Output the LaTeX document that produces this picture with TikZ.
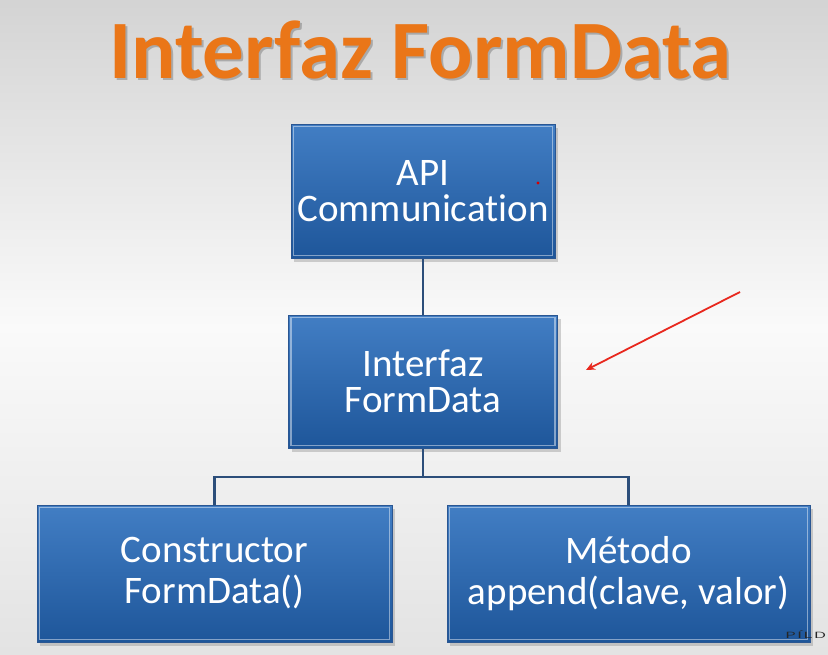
\documentclass[tikz,border=0pt]{standalone}
\usepackage{fontspec}
\setmainfont{Carlito}[Ligatures={NoCommon,NoContextual}]
\usetikzlibrary{shadows,arrows.meta}

\definecolor{titleorange}{RGB}{234,118,24}
\definecolor{boxtop}{RGB}{66,126,196}
\definecolor{boxbot}{RGB}{30,86,154}
\definecolor{boxedge}{RGB}{42,86,146}
\definecolor{linkblue}{RGB}{44,78,122}

\tikzset{
  box/.style={draw=boxedge, line width=1pt, top color=boxtop, bottom color=boxbot,
    text=white, align=center, inner sep=0pt,
    drop shadow={opacity=0.35, shadow xshift=3pt, shadow yshift=-4pt},
    path picture={
      \draw[white, opacity=0.45, line width=1.2pt]
        ([shift={(2.5pt,-2.5pt)}]path picture bounding box.north west) rectangle
        ([shift={(-2.5pt,2.5pt)}]path picture bounding box.south east);},
    font=\fontsize{39}{36}\selectfont},
  lowbox/.style={box, font=\fontsize{39}{41}\selectfont},
  link/.style={draw=linkblue, line width=2.6pt},
  note/.style={draw={rgb,255:red,232;green,40;blue,30}, line width=1.8pt,
    -{Stealth[length=9pt,width=8pt]}},
  titletext/.style={font=\fontsize{83}{83}\selectfont\bfseries, anchor=base}
}

\begin{document}
\begin{tikzpicture}[x=1pt,y=-1pt]
  % page background
  \shade[top color=black!17, bottom color=black!11, middle color=black!2]
    (0,0) rectangle (828,654);
  \useasboundingbox (0,0) rectangle (828,654);

  % title with a faint shadow copy behind it
  \node[titletext, text=black, opacity=0.22] (titleshadow) at (422.5,80.5) {Interfaz FormData};
  \node[titletext, text=titleorange] (title) at (420.5,78) {Interfaz FormData};

  % boxes
  \node[box, minimum width=264pt, minimum height=134pt] (api) at (423,191)
    {API\\Communication};
  \node[box, minimum width=269pt, minimum height=133pt] (form) at (423,381.5)
    {Interfaz\\FormData};
  \node[lowbox, minimum width=355pt, minimum height=137pt] (ctor) at (214.5,573.5)
    {Constructor\\FormData()};
  \node[lowbox, minimum width=363pt, minimum height=137pt] (meth) at (628.5,573.5)
    {Método\\append(clave, valor)};

  % connectors
  \coordinate (bus) at (423,477);
  \draw[link] (api.south) -- (form.north);
  \draw[link] (form.south) -- (bus);
  \draw[link] (ctor.north) |- (bus) -| (meth.north);

  % red pointer and dot
  \coordinate (ptrA) at (740,292);
  \coordinate (ptrB) at (586,370);
  \draw[note] (ptrA) -- (ptrB);
  \fill[red!85!black] (538,183) circle (1.6pt);

  % corner logo, running off the right edge
  \node[anchor=base west, text=black!85, inner sep=0pt, xscale=1.8,
    font=\fontsize{9}{9}\selectfont\sffamily] (logo)
    at (785,638.5) {P\kern0.8pt Í\kern0.8pt L\kern0.8pt D};
\end{tikzpicture}
\end{document}
